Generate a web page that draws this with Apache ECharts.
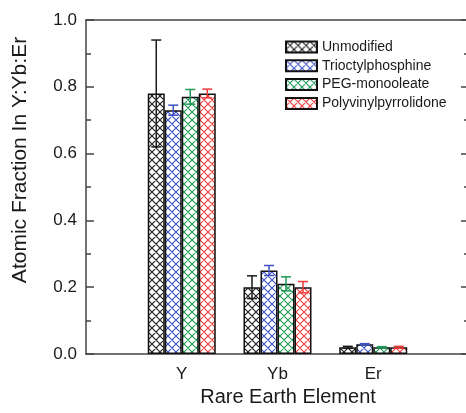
<!DOCTYPE html>
<html>
<head>
<meta charset="utf-8">
<style>
  html, body { margin: 0; padding: 0; background: #fff; }
  #chart { width: 466px; height: 413px; }
</style>
<script src="https://cdn.jsdelivr.net/npm/echarts@6/dist/echarts.min.js"></script>
</head>
<body>
<div id="chart"></div>
<script>
// Rare earth composition (atomic fraction) per surface treatment
const categories = ['Y', 'Yb', 'Er'];
const seriesNames = ['Unmodified', 'Trioctylphosphine', 'PEG-monooleate', 'Polyvinylpyrrolidone'];

const unmodified = [0.78, 0.20, 0.020];
const unmodifiedErr = [0.16, 0.034, 0.003];
const trioctylphosphine = [0.73, 0.25, 0.029];
const trioctylphosphineErr = [0.015, 0.015, 0.002];
const pegMonooleate = [0.77, 0.21, 0.020];
const pegMonooleateErr = [0.022, 0.021, 0.002];
const polyvinylpyrrolidone = [0.78, 0.20, 0.020];
const polyvinylpyrrolidoneErr = [0.013, 0.017, 0.003];

const yTicks = ['0.0', '0.2', '0.4', '0.6', '0.8', '1.0'];

const values = [unmodified, trioctylphosphine, pegMonooleate, polyvinylpyrrolidone];
const errors = [unmodifiedErr, trioctylphosphineErr, pegMonooleateErr, polyvinylpyrrolidoneErr];
const colors = ['#1a1a1a', '#3f51c0', '#1f9a55', '#f03a3a'];

const FONT = '"Liberation Sans", Arial, sans-serif';
const TEXT = '#1a1a1a';
const AXIS = '#444';
const BAR_PX = 17;

// Cross-hatch fill tile
function hatch(color) {
  const s = 8;
  const c = document.createElement('canvas');
  c.width = s; c.height = s;
  const g = c.getContext('2d');
  g.fillStyle = '#fff';
  g.fillRect(0, 0, s, s);
  g.strokeStyle = color;
  g.lineWidth = 1.1;
  g.beginPath();
  for (const dx of [-s, 0, s]) {
    g.moveTo(dx - 1, -1); g.lineTo(dx + s + 1, s + 1);
    g.moveTo(dx - 1, s + 1); g.lineTo(dx + s + 1, -1);
  }
  g.stroke();
  return { image: c, repeat: 'repeat' };
}

const chart = echarts.init(document.getElementById('chart'), null, { renderer: 'canvas' });

const barSeries = seriesNames.map((name, i) => ({
  name: name,
  type: 'bar',
  xAxisIndex: 0,
  yAxisIndex: 0,
  barWidth: BAR_PX,
  barGap: '0%',
  data: values[i].map((v, k) => [k + 1, v]),
  itemStyle: { color: hatch(colors[i]), borderColor: '#111', borderWidth: 1.5 },
  emphasis: { disabled: true },
  z: 2
}));

const errSeries = seriesNames.map((name, i) => ({
  name: name + ' error',
  type: 'custom',
  xAxisIndex: 0,
  yAxisIndex: 0,
  data: values[i].map((v, k) => [k + 1, v, errors[i][k]]),
  z: 5,
  renderItem: function (params, api) {
    const x = api.value(0), v = api.value(1), e = api.value(2);
    const off = (i - 1.5) * BAR_PX;
    const top = api.coord([x, v + e]);
    const bot = api.coord([x, v - e]);
    const cx = top[0] + off;
    const cap = 5;
    const style = { stroke: colors[i], lineWidth: 1.5, fill: null };
    return {
      type: 'group',
      children: [
        { type: 'line', shape: { x1: cx, y1: top[1], x2: cx, y2: bot[1] }, style: style },
        { type: 'line', shape: { x1: cx - cap, y1: top[1], x2: cx + cap, y2: top[1] }, style: style },
        { type: 'line', shape: { x1: cx - cap, y1: bot[1], x2: cx + cap, y2: bot[1] }, style: style }
      ]
    };
  }
}));

const tickStyle = { color: AXIS, width: 1.5 };

chart.setOption({
  animation: false,
  backgroundColor: '#fff',
  grid: { left: 86, top: 20, right: -3, bottom: 59, containLabel: false, outerBoundsMode: 'none' },
  legend: {
    data: seriesNames,
    orient: 'vertical',
    left: 280,
    top: 34,
    icon: 'rect',
    itemWidth: 31,
    itemHeight: 11,
    itemGap: 2.8,
    textStyle: { fontFamily: FONT, fontSize: 14, lineHeight: 16, color: TEXT },
    selectedMode: false
  },
  xAxis: [
    {
      type: 'value', min: 0, max: 4, interval: 1, position: 'bottom',
      axisLine: { show: true, onZero: false, lineStyle: tickStyle },
      axisTick: { show: false },
      splitLine: { show: false },
      axisLabel: {
        margin: 12, fontFamily: FONT, fontSize: 17, color: TEXT,
        formatter: v => categories[v - 1] || ''
      }
    },
    {
      type: 'value', min: 0, max: 4, position: 'top',
      axisLine: { show: true, onZero: false, lineStyle: tickStyle },
      axisTick: { show: false }, axisLabel: { show: false }, splitLine: { show: false }
    }
  ],
  yAxis: [
    {
      type: 'value', min: 0, max: 1, interval: 0.2, position: 'left',
      axisLine: { show: true, onZero: false, lineStyle: tickStyle },
      axisTick: { show: true, inside: true, length: 8, lineStyle: tickStyle },
      minorTick: { show: true, splitNumber: 2, length: 5, lineStyle: tickStyle },
      splitLine: { show: false },
      axisLabel: {
        margin: 9, fontFamily: FONT, fontSize: 17, color: TEXT,
        formatter: v => yTicks[Math.round(v / 0.2)]
      }
    },
    {
      type: 'value', min: 0, max: 1, interval: 0.2, position: 'right',
      axisLine: { show: true, onZero: false, lineStyle: tickStyle },
      axisTick: { show: true, inside: true, length: 8, lineStyle: tickStyle },
      minorTick: { show: true, splitNumber: 2, length: 5, lineStyle: tickStyle },
      splitLine: { show: false },
      axisLabel: { show: false }
    }
  ],
  graphic: [
    {
      type: 'text', x: 20, y: 160, rotation: Math.PI / 2,
      style: {
        text: 'Atomic Fraction In Y:Yb:Er', fontFamily: FONT, fontSize: 21,
        fill: TEXT, align: 'center', verticalAlign: 'middle'
      }
    },
    {
      type: 'text', x: 288, y: 397,
      style: {
        text: 'Rare Earth Element', fontFamily: FONT, fontSize: 20,
        fill: TEXT, align: 'center', verticalAlign: 'middle'
      }
    }
  ],
  series: barSeries.concat(errSeries)
});
</script>
</body>
</html>
